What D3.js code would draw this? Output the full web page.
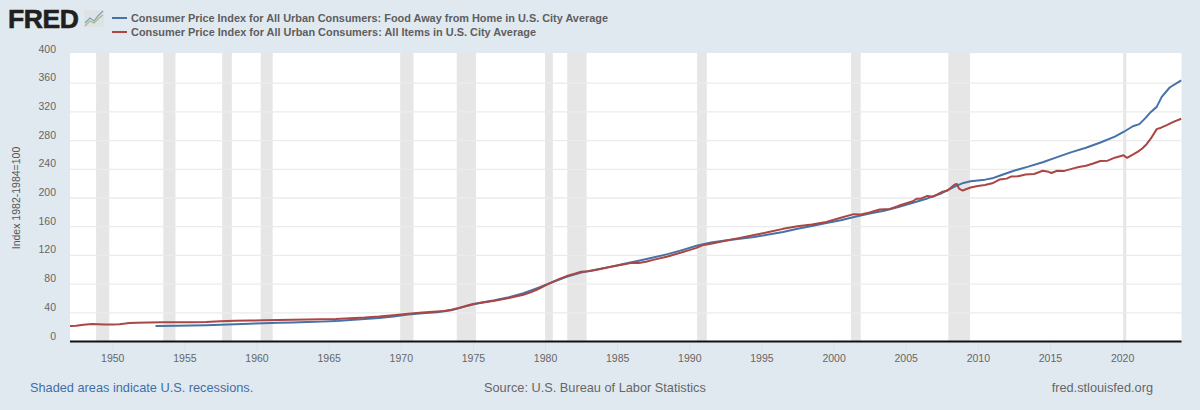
<!DOCTYPE html>
<html>
<head>
<meta charset="utf-8">
<script src="https://cdn.jsdelivr.net/npm/d3@7/dist/d3.min.js"></script>
<style>
  html, body { margin: 0; padding: 0; background: #e1e9f0; }
  svg { display: block; font-family: "Liberation Sans", Arial, sans-serif; }
</style>
</head>
<body>
<svg id="chart" width="1200" height="410"></svg>
<script>
// Series names
const foodName = "Consumer Price Index for All Urban Consumers: Food Away from Home in U.S. City Average";
const allName = "Consumer Price Index for All Urban Consumers: All Items in U.S. City Average";

// All Items index: [decimal year, index]
const allItems = [
  [1947.07,21.5],[1947.5,22.0],[1948.0,23.4],[1948.6,24.3],[1949.0,24.0],[1949.5,23.7],[1950.0,23.6],[1950.5,24.0],
  [1950.9,25.0],[1951.2,25.9],[1951.7,26.1],[1952.5,26.6],[1953.5,26.8],[1954.5,26.9],[1955.5,26.8],[1956.5,27.2],
  [1957.5,28.1],[1958.5,28.9],[1959.5,29.2],[1960.5,29.6],[1961.5,29.9],[1962.5,30.3],[1963.5,30.6],[1964.5,31.0],
  [1965.5,31.5],[1966.5,32.5],[1967.5,33.4],[1968.5,34.8],[1969.5,36.7],[1970.5,38.8],[1971.5,40.5],[1972.5,41.8],
  [1973.0,42.6],[1973.5,44.2],[1974.0,46.6],[1974.5,49.4],[1975.0,52.3],[1975.5,53.8],[1976.5,56.9],[1977.5,60.7],
  [1978.5,65.2],[1979.0,68.5],[1979.5,72.8],[1980.0,77.8],[1980.5,82.7],[1981.0,87.2],[1981.5,91.2],[1982.0,94.3],
  [1982.5,97.3],[1983.0,97.8],[1983.5,99.6],[1984.5,103.9],[1985.5,107.6],[1986.0,109.6],[1986.5,109.5],[1987.0,111.2],
  [1987.5,113.8],[1988.5,118.5],[1989.5,124.4],[1990.0,127.4],[1990.5,130.5],[1990.9,134.0],[1991.5,136.2],[1992.5,140.5],
  [1993.5,144.4],[1994.5,148.4],[1995.5,152.5],[1996.5,157.0],[1997.5,160.5],[1998.5,163.2],[1999.5,166.7],[2000.5,172.4],
  [2001.4,177.5],[2001.9,176.9],[2002.5,179.9],[2003.2,184.0],[2003.9,184.6],[2004.5,189.1],[2005.5,195.4],[2005.75,198.9],
  [2006.0,198.8],[2006.5,202.9],[2006.9,201.8],[2007.5,208.3],[2007.9,210.5],[2008.4,218.8],[2008.55,219.5],[2008.7,213.0],
  [2008.95,210.4],[2009.5,214.6],[2010.0,216.7],[2010.5,218.0],[2011.0,220.5],[2011.5,225.7],[2012.0,227.0],[2012.3,229.8],
  [2012.8,230.3],[2013.3,232.8],[2013.9,233.5],[2014.5,238.0],[2014.9,236.5],[2015.1,234.8],[2015.5,238.0],[2016.0,237.8],
  [2016.5,240.6],[2017.0,243.2],[2017.5,244.9],[2018.0,248.0],[2018.5,251.6],[2019.0,252.0],[2019.5,256.2],[2020.1,259.5],
  [2020.35,256.0],[2020.8,261.0],[2021.1,264.6],[2021.4,269.0],[2021.7,275.0],[2022.0,283.0],[2022.4,296.0],[2022.7,298.0],
  [2023.1,301.5],[2023.6,306.5],[2024.1,310.5]
];

// Food Away from Home index, starting in 1953: [decimal year, index]
const foodAway = [
  [1953.0,21.6],[1954.5,22.0],[1955.5,22.2],[1956.5,22.7],[1957.5,23.4],[1958.5,24.2],[1959.5,24.7],[1960.5,25.4],
  [1961.5,26.0],[1962.5,26.6],[1963.5,27.2],[1964.5,27.7],[1965.5,28.4],[1966.5,29.8],[1967.5,31.2],[1968.5,32.9],
  [1969.5,35.0],[1970.5,37.5],[1971.5,39.4],[1972.5,40.8],[1973.5,43.4],[1974.5,49.0],[1975.5,53.9],[1976.5,57.4],
  [1977.5,61.8],[1978.5,67.2],[1979.5,74.7],[1980.5,82.5],[1981.5,90.2],[1982.5,96.0],[1983.5,100.0],[1984.5,104.0],
  [1985.5,108.3],[1986.5,112.5],[1987.5,117.0],[1988.5,121.8],[1989.5,127.4],[1990.5,133.4],[1991.5,137.9],[1992.5,140.7],
  [1993.5,143.2],[1994.5,145.7],[1995.5,149.0],[1996.5,152.7],[1997.5,157.0],[1998.5,161.1],[1999.5,165.1],[2000.5,169.0],
  [2001.5,173.9],[2002.5,178.3],[2003.5,182.1],[2004.5,187.5],[2005.5,193.4],[2006.5,199.4],[2007.5,206.7],[2008.5,216.8],
  [2009.0,221.0],[2009.5,223.3],[2010.5,225.6],[2011.0,227.4],[2011.5,231.0],[2012.5,238.0],[2013.5,243.7],[2014.5,249.9],
  [2015.5,256.9],[2016.5,263.9],[2017.5,270.1],[2018.5,277.3],[2019.5,285.5],[2020.1,292.0],[2020.75,300.0],[2021.2,303.0],
  [2021.6,311.0],[2022.0,320.0],[2022.4,327.0],[2022.75,341.0],[2023.3,354.0],[2024.1,364.0]
];

// NBER recession spans: [start, end] in decimal years
const recessions = [
  [1948.88,1949.79],[1953.54,1954.38],[1957.62,1958.29],[1960.29,1961.12],[1969.96,1970.88],[1973.88,1975.21],
  [1980.0,1980.54],[1981.54,1982.88],[1990.54,1991.21],[2001.21,2001.88],[2007.96,2009.46],[2020.08,2020.29]
];

const yTicks = [0,40,80,120,160,200,240,280,320,360,400];
const xTicks = d3.range(1950, 2021, 5);

const svg = d3.select("#chart");
const plot = { left: 70, right: 1181.5, top: 54.5, bottom: 341.5 };

const x = d3.scaleLinear().domain([1947.07, 2024.12]).range([plot.left, plot.right]);
const y = d3.scaleLinear().domain([0, 400]).range([plot.bottom, plot.top]);

// Plot background
svg.append("rect")
  .attr("x", plot.left).attr("y", 53)
  .attr("width", plot.right - plot.left).attr("height", plot.bottom - 53)
  .attr("fill", "#ffffff");

// Recession bands
svg.append("g").selectAll("rect").data(recessions).join("rect")
  .attr("x", d => x(d[0]))
  .attr("y", 53)
  .attr("width", d => x(d[1]) - x(d[0]))
  .attr("height", plot.bottom - 53)
  .attr("fill", "#e6e6e6");

// Horizontal gridlines
svg.append("g").selectAll("line").data(yTicks.filter(t => t > 0 && t < 400)).join("line")
  .attr("x1", plot.left).attr("x2", plot.right)
  .attr("y1", d => y(d)).attr("y2", d => y(d))
  .attr("stroke", "#ebebeb").attr("stroke-width", 1.3);

// Y tick labels sit just above their gridlines
svg.append("g").selectAll("text").data(yTicks).join("text")
  .attr("x", 56)
  .attr("y", d => y(d) - 2)
  .attr("text-anchor", "end")
  .attr("font-size", 10.5)
  .attr("fill", "#666666")
  .text(d => d);

// Y axis title
svg.append("text")
  .attr("transform", "translate(20,198) rotate(-90)")
  .attr("text-anchor", "middle")
  .attr("font-size", 10.5)
  .attr("fill", "#555555")
  .text("Index 1982-1984=100");

// X axis with year ticks
const xAxis = svg.append("g")
  .attr("transform", `translate(0,${plot.bottom})`)
  .call(d3.axisBottom(x).tickValues(xTicks).tickFormat(d3.format("d")).tickSize(10).tickPadding(3));
xAxis.select(".domain").remove();
xAxis.selectAll(".tick line").attr("stroke", "#d6e0e9");
xAxis.selectAll(".tick text")
  .attr("font-size", 10.5)
  .attr("font-family", '"Liberation Sans", Arial, sans-serif')
  .attr("fill", "#666666");

// Baseline
svg.append("line")
  .attr("x1", plot.left).attr("x2", plot.right)
  .attr("y1", plot.bottom).attr("y2", plot.bottom)
  .attr("stroke", "#111111").attr("stroke-width", 2);

// Series lines
const line = d3.line().x(d => x(d[0])).y(d => y(d[1]));
svg.append("path").datum(foodAway)
  .attr("d", line).attr("fill", "none")
  .attr("stroke", "#4572a7").attr("stroke-width", 2).attr("stroke-linejoin", "round");
svg.append("path").datum(allItems)
  .attr("d", line).attr("fill", "none")
  .attr("stroke", "#aa4643").attr("stroke-width", 2).attr("stroke-linejoin", "round");

// Legend
const legend = [[foodName, "#4572a7", 18], [allName, "#aa4643", 32]];
legend.forEach(([name, color, ly]) => {
  svg.append("line")
    .attr("x1", 112).attr("x2", 127).attr("y1", ly).attr("y2", ly)
    .attr("stroke", color).attr("stroke-width", 2);
  svg.append("text")
    .attr("x", 131).attr("y", ly + 4)
    .attr("font-size", 11.5).attr("font-weight", 700)
    .attr("fill", "#5e5e5e")
    .attr("textLength", name === foodName ? 477 : 405)
    .attr("lengthAdjust", "spacingAndGlyphs")
    .text(name);
});

// Wordmark and its small graph badge
svg.append("text")
  .attr("x", 8).attr("y", 28)
  .attr("font-size", 26.5).attr("font-weight", 700)
  .attr("letter-spacing", -0.4)
  .attr("fill", "#231f20")
  .attr("stroke", "#231f20").attr("stroke-width", 0.6)
  .text("FRED");
const badge = svg.append("g").attr("transform", "translate(84,10)");
badge.append("rect").attr("width", 20).attr("height", 17).attr("fill", "#dde3e3");
const badgeLine = d3.line();
badge.append("path").attr("d", badgeLine([[1,13],[6,8],[10,11],[14,6],[19,1]]))
  .attr("fill", "none").attr("stroke", "#7c9fc6").attr("stroke-width", 1.2);
badge.append("path").attr("d", badgeLine([[1,16],[6,11],[10,13],[15,8],[19,5]]))
  .attr("fill", "none").attr("stroke", "#a3bb84").attr("stroke-width", 1.2);

// Footer
svg.append("text").attr("x", 30).attr("y", 392)
  .attr("font-size", 12.75).attr("fill", "#3f6ea6")
  .text("Shaded areas indicate U.S. recessions.");
svg.append("text").attr("x", 484).attr("y", 392)
  .attr("font-size", 12.75).attr("fill", "#666666")
  .text("Source: U.S. Bureau of Labor Statistics");
svg.append("text").attr("x", 1153).attr("y", 392)
  .attr("text-anchor", "end")
  .attr("font-size", 12.75).attr("fill", "#666666")
  .text("fred.stlouisfed.org");
</script>
</body>
</html>
